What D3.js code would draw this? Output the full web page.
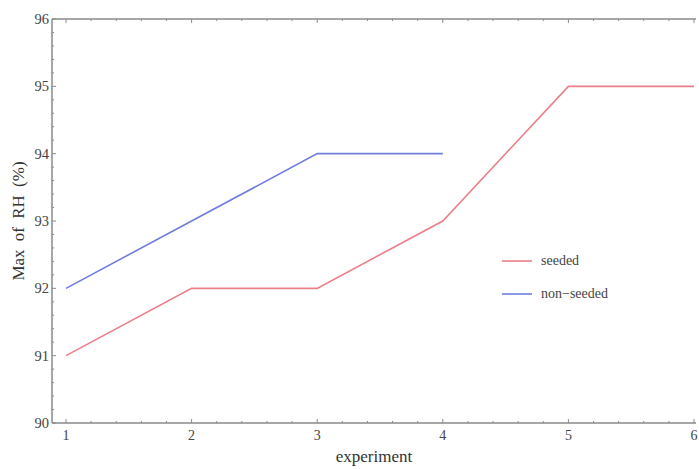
<!DOCTYPE html>
<html>
<head>
<meta charset="utf-8">
<script src="https://cdn.jsdelivr.net/npm/d3@7"></script>
<style>
  body { margin: 0; background: #fff; }
  text { font-family: "Liberation Serif", "DejaVu Serif", serif; }
</style>
</head>
<body>
<div id="chart"></div>
<script>
// data
const experiments = [1, 2, 3, 4, 5, 6];
const seeded = [91, 92, 92, 93, 95, 95];
const nonSeeded = [92, 93, 94, 94];
const yTicks = [90, 91, 92, 93, 94, 95, 96];
const seriesNames = ['seeded', 'non-seeded'];
const seriesColors = ['#ea7f88', '#6f7de0'];

const W = 699, H = 469;
const svg = d3.select('#chart').append('svg')
    .attr('width', W)
    .attr('height', H);

// frame edges
const fLeft = 52, fRight = 696, fTop = 19, fBottom = 423;

const x = d3.scaleLinear()
    .domain([1, 6])
    .range([66, 694]);
const y = d3.scaleLinear()
    .domain([90, 96])
    .range([fBottom, fTop]);

const frameColor = '#8a8a8a';
const labelColor = '#444';

// frame lines (left, bottom, top)
svg.append('line').attr('x1', fLeft).attr('x2', fLeft).attr('y1', fTop).attr('y2', fBottom)
    .attr('stroke', frameColor).attr('stroke-width', 1.5);
svg.append('line').attr('x1', fLeft).attr('x2', fRight).attr('y1', fBottom).attr('y2', fBottom)
    .attr('stroke', frameColor).attr('stroke-width', 1.5);
svg.append('line').attr('x1', fLeft).attr('x2', fRight).attr('y1', fTop).attr('y2', fTop)
    .attr('stroke', frameColor).attr('stroke-width', 1.5);

// minor + major ticks on x (bottom & top, pointing inward)
const xMinor = d3.range(1, 6.001, 0.2);
xMinor.forEach(v => {
    const major = Math.abs(v - Math.round(v)) < 1e-6;
    const len = major ? 4 : 2;
    svg.append('line').attr('x1', x(v)).attr('x2', x(v))
        .attr('y1', fBottom).attr('y2', fBottom - len)
        .attr('stroke', frameColor).attr('stroke-width', 1);
    svg.append('line').attr('x1', x(v)).attr('x2', x(v))
        .attr('y1', fTop).attr('y2', fTop + len)
        .attr('stroke', frameColor).attr('stroke-width', 1);
});

// minor + major ticks on y
const yMinor = d3.range(90, 96.001, 0.2);
yMinor.forEach(v => {
    const major = Math.abs(v - Math.round(v)) < 1e-6;
    const len = major ? 4 : 2;
    svg.append('line').attr('x1', fLeft).attr('x2', fLeft + len)
        .attr('y1', y(v)).attr('y2', y(v))
        .attr('stroke', frameColor).attr('stroke-width', 1);
});

// tick labels
svg.selectAll('.xlab')
    .data(experiments)
    .join('text')
    .attr('class', 'xlab')
    .attr('x', d => x(d))
    .attr('y', fBottom + 17)
    .attr('text-anchor', 'middle')
    .attr('font-size', 14)
    .attr('fill', labelColor)
    .text(d => d);

svg.selectAll('.ylab')
    .data(yTicks)
    .join('text')
    .attr('class', 'ylab')
    .attr('x', fLeft - 3)
    .attr('y', d => y(d) + 5)
    .attr('text-anchor', 'end')
    .attr('font-size', 14.5)
    .attr('fill', labelColor)
    .text(d => d);

// axis titles
svg.append('text')
    .attr('x', (fLeft + fRight) / 2)
    .attr('y', 462)
    .attr('text-anchor', 'middle')
    .attr('font-size', 17)
    .attr('fill', '#333')
    .text('experiment');

svg.append('text')
    .attr('transform', 'translate(24,' + ((fTop + fBottom) / 2) + ') rotate(-90)')
    .attr('text-anchor', 'middle')
    .attr('font-size', 17)
    .attr('fill', '#333')
    .attr('word-spacing', 4)
    .text('Max of RH (%)');

// lines
const line = d3.line()
    .x((d, i) => x(experiments[i]))
    .y(d => y(d));

[seeded, nonSeeded].forEach((s, i) => {
    svg.append('path')
        .datum(s)
        .attr('d', line)
        .attr('fill', 'none')
        .attr('stroke', seriesColors[i])
        .attr('stroke-width', 1.6);
});

// legend
const legend = svg.selectAll('.leg')
    .data(seriesNames)
    .join('g')
    .attr('class', 'leg')
    .attr('transform', (d, i) => 'translate(502,' + (261 + i * 33) + ')');

legend.append('line')
    .attr('x1', 0).attr('x2', 30)
    .attr('stroke', (d, i) => seriesColors[i])
    .attr('stroke-width', 1.6);

legend.append('text')
    .attr('x', 39)
    .attr('y', 4)
    .attr('font-size', 14)
    .attr('fill', labelColor)
    .text(d => d.replace('-', '\u2212'));
</script>
</body>
</html>
